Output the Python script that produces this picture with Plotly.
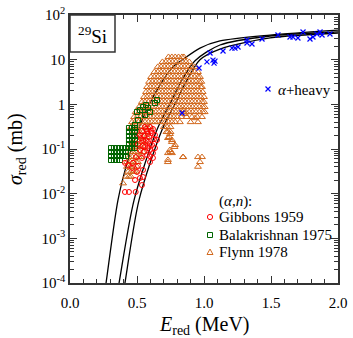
import plotly.graph_objects as go

# ---------------- data ----------------
# model curves (E_red in MeV, sigma_red in mb)
curve1_E = [0.25, 0.269, 0.358, 0.433, 0.522, 0.657, 0.769, 0.836, 0.970, 1.119, 1.493, 2.0]
curve1_sigma = [4.2e-5, 1.0e-4, 7.2e-3, 0.057, 0.34, 2.3, 6.9, 9.8, 18.2, 26.2, 35.6, 46]
curve2_E = [0.345, 0.366, 0.478, 0.649, 0.761, 0.828, 0.933, 1.119, 1.493, 2.0]
curve2_sigma = [4.5e-5, 1.0e-4, 7.2e-3, 0.27, 1.25, 3.2, 9.5, 21.3, 33.9, 41.6]
curve3_E = [0.39, 0.41, 0.515, 0.687, 0.799, 0.866, 0.970, 1.119, 1.493, 2.0]
curve3_sigma = [4.4e-5, 1.0e-4, 7.2e-3, 0.27, 1.25, 3.2, 10.0, 17.3, 30.6, 39.5]

# Gibbons 1959 (alpha,n)
gibbons_E = [0.560, 0.597, 0.619, 0.537, 0.575, 0.612, 0.634, 0.522, 0.552, 0.590,
             0.649, 0.545, 0.582, 0.612, 0.507, 0.560, 0.597, 0.522, 0.619, 0.575,
             0.619, 0.493, 0.537, 0.597, 0.410, 0.433, 0.470, 0.507, 0.463, 0.545,
             0.500, 0.522, 0.545, 0.485, 0.537, 0.410, 0.440, 0.490,
             0.567, 0.605, 0.582, 0.530, 0.627, 0.567, 0.597, 0.545, 0.582, 0.634,
             0.552, 0.597]
gibbons_sigma = [0.311, 0.311, 0.281, 0.253, 0.253, 0.228, 0.206, 0.206, 0.195, 0.186,
                 0.159, 0.159, 0.144, 0.123, 0.129, 0.111, 0.095, 0.095, 0.081, 0.073,
                 0.063, 0.066, 0.063, 0.051, 0.049, 0.044, 0.049, 0.042, 0.0376, 0.034,
                 0.0306, 0.0224, 0.0236, 0.0202, 0.0156, 0.0109, 0.0109, 0.0109,
                 0.281, 0.253, 0.217, 0.175, 0.166, 0.159, 0.129, 0.117, 0.105, 0.105,
                 0.086, 0.069]

# Balakrishnan 1975 (alpha,n)
bala_E = [0.306, 0.328, 0.351, 0.373, 0.396, 0.418,
          0.306, 0.328, 0.351, 0.373, 0.396, 0.418,
          0.306, 0.328, 0.351, 0.373, 0.396, 0.418,
          0.306, 0.328, 0.351, 0.373,
          0.440, 0.463, 0.485, 0.440, 0.463, 0.485, 0.440, 0.463, 0.485,
          0.440, 0.463, 0.485, 0.440, 0.463, 0.485, 0.440, 0.463, 0.485,
          0.485, 0.507, 0.500, 0.522, 0.545, 0.567, 0.582, 0.597, 0.560, 0.634, 0.649]
bala_sigma = [0.105, 0.105, 0.105, 0.105, 0.105, 0.105,
              0.0857, 0.0857, 0.0857, 0.0857, 0.0857, 0.0857,
              0.0697, 0.0697, 0.0697, 0.0697, 0.0697, 0.0697,
              0.0567, 0.0567, 0.0567, 0.0567,
              0.295, 0.295, 0.295, 0.240, 0.240, 0.240, 0.195, 0.195, 0.195,
              0.159, 0.159, 0.159, 0.129, 0.129, 0.129, 0.105, 0.105, 0.105,
              0.345, 0.446, 0.673, 0.746, 0.871, 0.966, 0.83, 0.673, 0.577, 1.07, 1.25]

# Flynn 1978 (alpha,n): dense cloud, listed row by row
flynn_row_sigma = [11.5, 8.9, 6.9, 5.3, 4.1, 3.2, 2.44, 1.89, 1.46, 1.13, 0.87, 0.67, 0.52,
                   0.40, 0.31, 0.24, 0.186, 0.144, 0.111, 0.086, 0.066, 0.051, 0.040, 0.031, 0.024]
flynn_row_E = [
    [0.735, 0.76, 0.785, 0.81, 0.835, 0.85],
    [0.69, 0.715, 0.74, 0.765, 0.79, 0.815, 0.84, 0.865, 0.89],
    [0.655, 0.68, 0.705, 0.73, 0.755, 0.78, 0.805, 0.83, 0.855, 0.88, 0.905, 0.93],
    [0.63, 0.655, 0.68, 0.705, 0.73, 0.755, 0.78, 0.805, 0.83, 0.855, 0.88, 0.905, 0.93, 0.955],
    [0.605, 0.63, 0.655, 0.68, 0.705, 0.73, 0.755, 0.78, 0.805, 0.83, 0.855, 0.88, 0.905, 0.93, 0.955, 0.97],
    [0.59, 0.615, 0.64, 0.665, 0.69, 0.715, 0.74, 0.765, 0.79, 0.815, 0.84, 0.865, 0.89, 0.915, 0.94, 0.965, 0.98],
    [0.575, 0.60, 0.625, 0.65, 0.675, 0.70, 0.725, 0.75, 0.775, 0.80, 0.825, 0.85, 0.875, 0.90, 0.925, 0.95, 0.975, 0.985],
    [0.567, 0.59, 0.615, 0.64, 0.665, 0.69, 0.715, 0.74, 0.765, 0.79, 0.815, 0.84, 0.865, 0.89, 0.915, 0.94, 0.965, 0.99],
    [0.552, 0.575, 0.60, 0.625, 0.65, 0.675, 0.70, 0.725, 0.75, 0.775, 0.80, 0.825, 0.85, 0.875, 0.90, 0.925, 0.95, 0.975, 1.0],
    [0.537, 0.56, 0.585, 0.61, 0.635, 0.66, 0.685, 0.71, 0.735, 0.76, 0.785, 0.81, 0.835, 0.86, 0.885, 0.91, 0.935, 0.96, 0.985, 1.0],
    [0.515, 0.54, 0.565, 0.59, 0.615, 0.64, 0.665, 0.69, 0.715, 0.74, 0.765, 0.79, 0.815, 0.84, 0.865, 0.89, 0.915, 0.94, 0.965, 0.99, 1.005],
    [0.49, 0.515, 0.54, 0.565, 0.59, 0.615, 0.64, 0.665, 0.69, 0.715, 0.74, 0.765, 0.79, 0.815, 0.84, 0.865, 0.89, 0.915, 0.94, 0.965, 0.99, 1.005],
    [0.478, 0.50, 0.525, 0.55, 0.575, 0.60, 0.625, 0.65, 0.675, 0.70, 0.725, 0.75, 0.775, 0.80, 0.83, 0.87, 0.91, 0.95, 0.985],
    [0.463, 0.485, 0.51, 0.535, 0.56, 0.585, 0.61, 0.635, 0.66, 0.685, 0.71, 0.735, 0.76, 0.785, 0.82, 0.90, 0.955],
    [0.455, 0.48, 0.505, 0.53, 0.555, 0.58, 0.60, 0.70, 0.725, 0.75],
    [0.47, 0.495, 0.52, 0.545, 0.575, 0.73, 0.75],
    [0.47, 0.495, 0.52, 0.545, 0.575, 0.74],
    [0.463, 0.485, 0.51, 0.535, 0.56, 0.76],
    [0.455, 0.48, 0.505, 0.53, 0.55, 0.78],
    [0.448, 0.47, 0.495, 0.52, 0.545, 0.75],
    [0.44, 0.465, 0.49, 0.515, 0.53, 0.845, 0.955, 0.985],
    [0.425, 0.45, 0.475, 0.495, 0.507, 0.73, 0.97],
    [0.425, 0.45, 0.475, 0.50, 0.955],
    [0.433, 0.455, 0.475, 0.49],
    [0.418, 0.44, 0.455],
]
flynn_extra_E = [0.396, 0.843, 0.858, 0.933, 0.72, 0.746, 0.731, 0.761, 0.784, 0.746, 0.731, 0.761, 0.731, 0.843]
flynn_extra_sigma = [0.017, 0.75, 0.61, 0.49, 0.24, 0.217, 0.176, 0.159, 0.123, 0.095, 0.081, 0.081, 0.057, 0.066]

# alpha + heavy
heavy_E = [0.836, 0.963, 1.022, 1.045, 1.067, 1.075, 1.082, 1.142, 1.209, 1.231, 1.254,
           1.321, 1.358, 1.321, 1.433, 1.552, 1.642, 1.664, 1.701, 1.739, 1.791, 1.813,
           1.843, 1.866, 1.881, 1.940]
heavy_sigma = [0.64, 6.5, 8.9, 14.1, 9.8, 8.4, 9.3, 15.6, 18.2, 18.2, 19.2,
               23.6, 22.4, 27.5, 29.0, 35.7, 32.2, 32.2, 30.5, 41.6, 29.0, 32.2,
               37.6, 41.6, 35.7, 37.6]

y_tickvals = [1e-4, 1e-3, 1e-2, 1e-1, 1, 10, 100]
y_ticktext = ["10<sup>-4</sup>", "10<sup>-3</sup>", "10<sup>-2</sup>", "10<sup>-1</sup>",
              "1", "10", "10<sup>2</sup>"]

series_labels = ["Gibbons 1959", "Balakrishnan 1975", "Flynn 1978"]
heavy_label = "<i>α</i>+heavy"
group_label = "(<i>α</i>,<i>n</i>):"

# ---------------- figure ----------------
flynn_E = [e for row in flynn_row_E for e in row] + flynn_extra_E
flynn_sigma = [s for row, s in zip(flynn_row_E, flynn_row_sigma) for _ in row] + flynn_extra_sigma

FONT = "'Liberation Serif', 'Times New Roman', 'DejaVu Serif', serif"
ORANGE = "#D2691E"
GREEN = "#006400"
RED = "#FF0000"
BLUE = "#0000FF"
FRAME = "#333333"

PLOT_L, PLOT_T, PLOT_W, PLOT_H = 70, 15, 268, 268
fig = go.Figure()

for cx, cy in [(curve1_E, curve1_sigma), (curve2_E, curve2_sigma), (curve3_E, curve3_sigma)]:
    fig.add_trace(go.Scatter(x=cx, y=cy, mode="lines",
                             line=dict(color="black", width=1.3, shape="spline", smoothing=0.8),
                             showlegend=False, hoverinfo="skip"))

fig.add_trace(go.Scatter(x=flynn_E, y=flynn_sigma, mode="markers", name=series_labels[2], showlegend=False,
                         marker=dict(symbol="triangle-up-open", size=6, color=ORANGE, line=dict(width=1, color=ORANGE))))
fig.add_trace(go.Scatter(x=bala_E, y=bala_sigma, mode="markers", name=series_labels[1], showlegend=False,
                         marker=dict(symbol="square-open", size=5, color=GREEN, line=dict(width=1, color=GREEN))))
fig.add_trace(go.Scatter(x=gibbons_E, y=gibbons_sigma, mode="markers", name=series_labels[0], showlegend=False,
                         marker=dict(symbol="circle-open", size=5, color=RED, line=dict(width=1, color=RED))))
fig.add_trace(go.Scatter(x=heavy_E, y=heavy_sigma, mode="markers", name=heavy_label, showlegend=False,
                         marker=dict(symbol="x-thin-open", size=5, color=BLUE, line=dict(width=1.2, color=BLUE))))

axis_common = dict(showline=True, linecolor=FRAME, linewidth=1.5, mirror="allticks", ticks="inside",
                   ticklen=7, tickwidth=1, tickcolor=FRAME, showgrid=False, zeroline=False, automargin=False,
                   ticklabeloverflow="allow",
                   tickfont=dict(family=FONT, size=15, color="black"))

fig.update_xaxes(range=[0, 2.0], dtick=0.5, tick0=0, tickformat=".1f", ticklabelstandoff=5,
                 minor=dict(ticks="inside", ticklen=4, dtick=0.1, tickcolor=FRAME, showgrid=False),
                 **axis_common)
minor_y = [m * 10 ** p for p in range(-4, 2) for m in range(2, 10)]
fig.update_yaxes(type="log", range=[-4, 2], tickvals=y_tickvals, ticktext=y_ticktext,
                 minor=dict(ticks="inside", ticklen=4, tickvals=minor_y, tickcolor=FRAME, showgrid=False),
                 **axis_common)


def px(sx):
    return (sx - PLOT_L) / PLOT_W


def py(sy):
    return (PLOT_T + PLOT_H - sy) / PLOT_H


# isotope box
fig.add_shape(type="rect", xref="paper", yref="paper", x0=0, x1=px(115), y0=py(52), y1=1.0,
              line=dict(color=FRAME, width=1.5), fillcolor="white")
fig.add_annotation(text="<sup>29</sup>Si", xref="paper", yref="paper", x=px(92), y=py(35),
                   xanchor="center", yanchor="middle", showarrow=False,
                   font=dict(family=FONT, size=19, color="black"))

# axis titles
fig.add_annotation(text="<i>E</i><sub>red</sub> (MeV)", xref="paper", yref="paper", x=px(204), y=py(325),
                   xanchor="center", yanchor="middle", showarrow=False,
                   font=dict(family=FONT, size=20, color="black"))
fig.add_annotation(text="<i>σ</i><sub>red</sub> (mb)", xref="paper", yref="paper", x=px(16), y=py(149),
                   xanchor="center", yanchor="middle", textangle=-90, showarrow=False,
                   font=dict(family=FONT, size=20, color="black"))

# legend texts
legend_font = dict(family=FONT, size=15, color="black")
fig.add_annotation(text=group_label, xref="paper", yref="paper", x=px(217), y=py(201),
                   xanchor="left", yanchor="middle", showarrow=False, font=legend_font)
for lab, sy in zip(series_labels, [217, 235, 252]):
    fig.add_annotation(text=lab, xref="paper", yref="paper", x=px(217), y=py(sy),
                       xanchor="left", yanchor="middle", showarrow=False, font=legend_font)
fig.add_annotation(text=heavy_label, xref="paper", yref="paper", x=px(276), y=py(90),
                   xanchor="left", yanchor="middle", showarrow=False, font=legend_font)

# legend keys (symbols)
r = 2.6
fig.add_shape(type="circle", xref="paper", yref="paper",
              x0=px(210 - r), x1=px(210 + r), y0=py(217 + r), y1=py(217 - r),
              line=dict(color=RED, width=1))
fig.add_shape(type="rect", xref="paper", yref="paper",
              x0=px(210 - 2.5), x1=px(210 + 2.5), y0=py(235 + 2.5), y1=py(235 - 2.5),
              line=dict(color=GREEN, width=1))
fig.add_shape(type="path", xref="paper", yref="paper",
              path=f"M {px(210)} {py(249)} L {px(213)} {py(254.5)} L {px(207)} {py(254.5)} Z",
              line=dict(color=ORANGE, width=1))
fig.add_shape(type="path", xref="paper", yref="paper",
              path=(f"M {px(265.5)} {py(86.5)} L {px(270.5)} {py(91.5)} "
                    f"M {px(265.5)} {py(91.5)} L {px(270.5)} {py(86.5)}"),
              line=dict(color=BLUE, width=1.2))

fig.update_layout(
    width=353, height=338,
    margin=dict(l=PLOT_L, r=353 - PLOT_L - PLOT_W, t=PLOT_T, b=338 - PLOT_T - PLOT_H, autoexpand=False),
    paper_bgcolor="white", plot_bgcolor="white",
    font=dict(family=FONT, size=15, color="black"),
    showlegend=False,
)

# the page's default 8px body margin would shift the figure; remove it
fig.write_html("out.html", config={"displayModeBar": False},
               post_script="document.body.style.margin='0';")
